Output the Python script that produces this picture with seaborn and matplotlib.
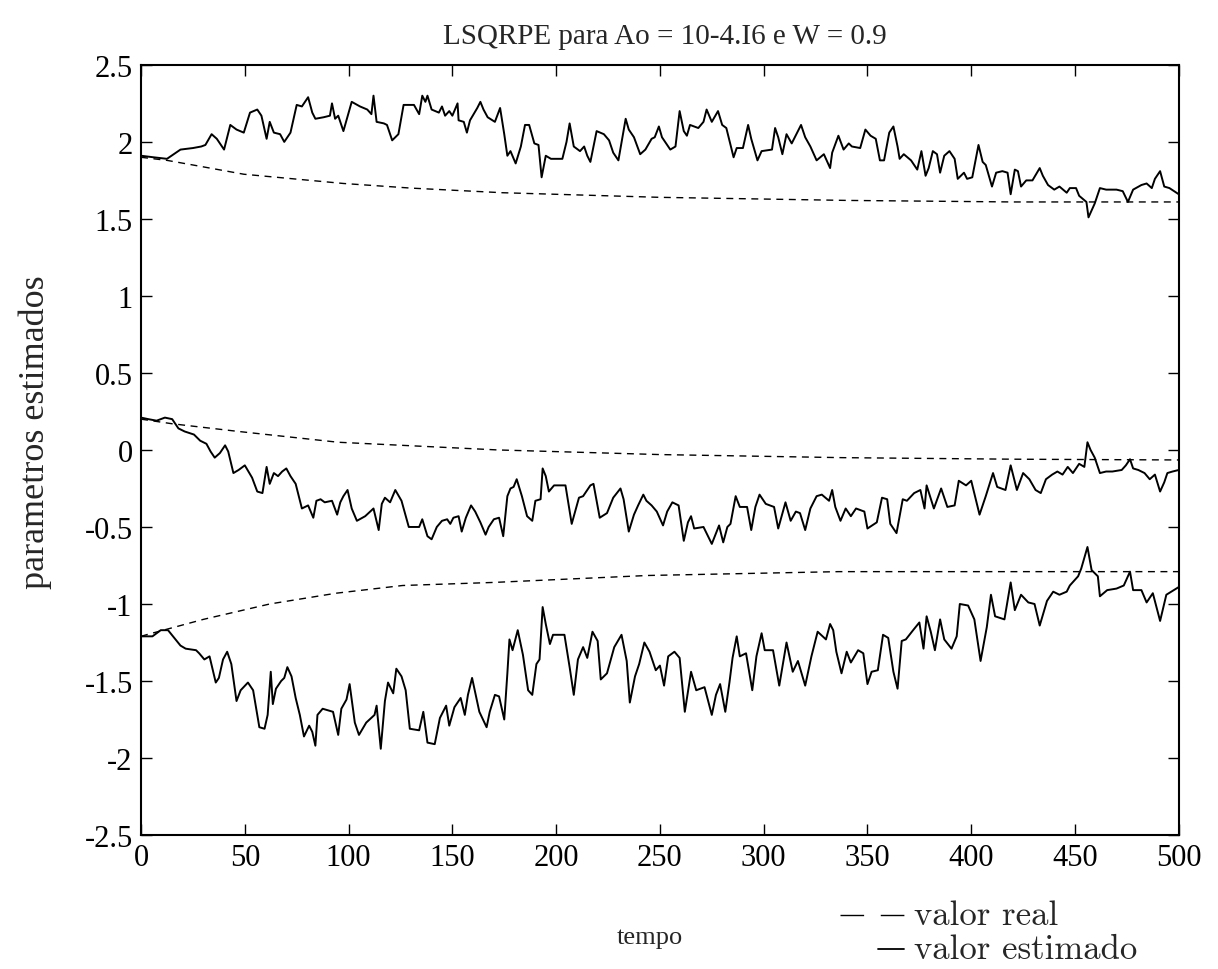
import matplotlib
matplotlib.use("Agg")
import matplotlib.pyplot as plt
from matplotlib.lines import Line2D
import numpy as np
import pandas as pd
import seaborn as sns

# ---- estimated parameters (solid) ----
t_a1 = [0, 6, 12.5, 19, 25, 29, 31, 34, 36.5, 40, 43, 46, 49.5, 52.5, 56, 58, 60.5, 62, 64, 67, 69, 72,
        75, 77.5, 80.5, 82.5, 84, 88, 91, 92, 93.5, 95, 97.5, 101.5, 105.5, 109, 111, 112, 113.5, 117,
        118.5, 121, 124, 126.5, 131.5, 134, 135.5, 137, 138, 140, 143.5, 145, 146.5, 148.5, 150, 152.5,
        153, 155.5, 157, 158.5, 162, 163.5, 165, 167, 170.5, 173, 175, 176.5, 178, 180.5, 183, 185, 187,
        189.5, 191.5, 193, 195, 197.5, 203, 205, 206.5, 208.5, 211.5, 213.5, 215, 216.5, 219.5, 223,
        225.5, 227.5, 230, 233.5, 235, 237.5, 240.5, 243, 246, 247.5, 249.5, 251, 255, 257.5, 259.5,
        261.5, 263, 264.5, 268.5, 271, 272.5, 275, 278, 280, 282, 285.5, 287, 290, 292.5, 294, 297, 299,
        304, 305.5, 307, 309, 311, 313.5, 318, 320, 322.5, 325.5, 329, 331, 332, 333, 336, 338.5, 341,
        342.5, 346.5, 349, 351.5, 354, 356, 358, 360.5, 362.5, 364.5, 365.5, 367.5, 371, 374, 376, 378,
        379.5, 381.5, 383.5, 385, 387, 389.5, 392, 393.5, 396.5, 398, 400.5, 403.5, 405.5, 407, 410, 412,
        415, 417.5, 419, 421, 422.5, 424, 426.5, 429.5, 433, 434.5, 437, 440, 442.5, 446, 447.5, 450.5,
        452, 455.5, 456.5, 459.5, 462, 465, 470, 473, 475.5, 478, 482, 484.5, 487, 488.5, 491, 493,
        495.5, 500]
est_a1 = [1.91, 1.90, 1.89, 1.95, 1.96, 1.97, 1.98, 2.05, 2.02, 1.95, 2.11, 2.08, 2.06, 2.19, 2.21, 2.17,
          2.02, 2.13, 2.06, 2.05, 2.00, 2.06, 2.24, 2.23, 2.29, 2.19, 2.15, 2.16, 2.17, 2.25, 2.15, 2.17,
          2.07, 2.26, 2.23, 2.21, 2.18, 2.30, 2.13, 2.12, 2.11, 2.01, 2.05, 2.24, 2.24, 2.18, 2.30, 2.26,
          2.30, 2.21, 2.19, 2.23, 2.17, 2.20, 2.17, 2.25, 2.14, 2.13, 2.06, 2.14, 2.22, 2.26, 2.21, 2.16,
          2.13, 2.22, 2.05, 1.91, 1.94, 1.86, 1.97, 2.11, 2.11, 1.99, 1.98, 1.77, 1.91, 1.89, 1.89, 2.00,
          2.12, 1.97, 1.94, 1.97, 1.91, 1.87, 2.07, 2.05, 2.01, 1.93, 1.88, 2.15, 2.08, 2.03, 1.92, 1.95,
          2.02, 2.03, 2.10, 2.03, 1.95, 1.97, 2.20, 2.07, 2.04, 2.11, 2.09, 2.13, 2.21, 2.13, 2.20, 2.11,
          2.09, 1.90, 1.96, 1.96, 2.11, 2.02, 1.88, 1.94, 1.95, 2.09, 2.03, 1.92, 2.05, 1.99, 2.11, 2.03,
          1.97, 1.88, 1.92, 1.86, 1.83, 1.93, 2.04, 1.95, 1.99, 1.97, 1.96, 2.08, 2.04, 2.02, 1.88, 1.88,
          2.06, 2.10, 1.97, 1.89, 1.92, 1.88, 1.82, 1.94, 1.78, 1.83, 1.94, 1.92, 1.80, 1.91, 1.94, 1.89,
          1.76, 1.80, 1.76, 1.77, 1.98, 1.87, 1.85, 1.71, 1.80, 1.81, 1.80, 1.66, 1.82, 1.81, 1.71, 1.75,
          1.75, 1.83, 1.78, 1.72, 1.69, 1.71, 1.67, 1.70, 1.70, 1.65, 1.61, 1.51, 1.60, 1.70, 1.69, 1.69,
          1.68, 1.61, 1.69, 1.72, 1.73, 1.70, 1.76, 1.81, 1.71, 1.70, 1.66]

t_a2 = [0, 3.5, 7.5, 11.5, 15, 18, 21, 25.5, 28.5, 31.5, 33.5, 35.5, 38, 40.5, 42, 44.5, 47, 50, 53.5, 56,
        58.5, 60.5, 62, 64, 66, 68, 70, 72, 74.5, 77.5, 80.5, 83, 84.5, 86.5, 88.5, 92, 94.5, 96, 97.5,
        99.5, 101.5, 104, 108, 112, 114.5, 116, 117.5, 120, 122.5, 125.5, 129, 134, 135.5, 138, 140,
        142.5, 145, 147.5, 149, 150.5, 153, 154.5, 156.5, 159, 161, 163.5, 166, 167.5, 170, 172.5, 174.5,
        176.5, 178, 179.5, 181, 183.5, 186, 188.5, 190, 192.5, 193.5, 195, 196.5, 199, 204.5, 207.5,
        211, 213, 216.5, 218, 221, 224.5, 227.5, 231, 232.5, 235, 237.5, 239.5, 242, 243.5, 246, 248.5,
        251.5, 253.5, 256, 259, 261.5, 263.5, 265, 266.5, 271, 275, 278.5, 280.5, 282.5, 284, 286.5,
        288.5, 292, 294, 296, 298, 301, 305, 307, 310.5, 313, 315.5, 317.5, 320, 322.5, 325.5, 328,
        331.5, 333, 334.5, 337, 339.5, 342, 344.5, 348.5, 350, 354.5, 357, 359.5, 361, 364, 367, 369,
        372.5, 375.5, 377.5, 378.5, 382, 385.5, 388.5, 392, 394, 397.5, 400, 404, 407, 410.5, 412.5,
        416.5, 419, 422, 425, 428, 431, 433.5, 436, 439, 441.5, 444, 446.5, 449, 452, 454.5, 456, 457.5,
        459.5, 462, 465, 468, 472.5, 474.5, 476.5, 478, 480.5, 483.5, 486, 488.5, 491, 493, 494.5, 497,
        500]
est_a2 = [0.21, 0.20, 0.19, 0.21, 0.20, 0.14, 0.12, 0.10, 0.06, 0.04, -0.01, -0.05, -0.02, 0.03, -0.01,
          -0.15, -0.13, -0.10, -0.18, -0.27, -0.28, -0.11, -0.22, -0.15, -0.17, -0.14, -0.12, -0.17,
          -0.22, -0.38, -0.36, -0.44, -0.33, -0.32, -0.34, -0.33, -0.42, -0.34, -0.30, -0.26, -0.38,
          -0.46, -0.43, -0.38, -0.52, -0.35, -0.31, -0.34, -0.26, -0.33, -0.50, -0.50, -0.45, -0.56,
          -0.58, -0.50, -0.46, -0.45, -0.48, -0.44, -0.43, -0.53, -0.44, -0.36, -0.40, -0.47, -0.55,
          -0.50, -0.45, -0.44, -0.56, -0.30, -0.25, -0.24, -0.19, -0.30, -0.43, -0.46, -0.33, -0.32,
          -0.12, -0.17, -0.27, -0.23, -0.23, -0.48, -0.31, -0.30, -0.23, -0.22, -0.44, -0.41, -0.31,
          -0.25, -0.32, -0.53, -0.42, -0.36, -0.29, -0.33, -0.36, -0.40, -0.49, -0.40, -0.34, -0.36,
          -0.59, -0.47, -0.43, -0.51, -0.50, -0.61, -0.49, -0.60, -0.50, -0.48, -0.30, -0.37, -0.37,
          -0.52, -0.37, -0.29, -0.35, -0.37, -0.51, -0.34, -0.46, -0.40, -0.41, -0.52, -0.38, -0.30,
          -0.29, -0.33, -0.26, -0.37, -0.46, -0.38, -0.43, -0.38, -0.40, -0.51, -0.47, -0.31, -0.32,
          -0.48, -0.54, -0.32, -0.33, -0.28, -0.26, -0.38, -0.23, -0.38, -0.25, -0.37, -0.36, -0.20,
          -0.23, -0.20, -0.42, -0.30, -0.15, -0.24, -0.26, -0.10, -0.26, -0.15, -0.19, -0.26, -0.28,
          -0.19, -0.16, -0.14, -0.16, -0.11, -0.15, -0.09, -0.11, 0.05, 0.00, -0.05, -0.15, -0.14, -0.14,
          -0.13, -0.10, -0.06, -0.12, -0.13, -0.15, -0.19, -0.16, -0.27, -0.21, -0.15, -0.14, -0.13]

t_a3 = [0, 5.5, 9.5, 13, 16, 19, 21.5, 26.5, 28, 30.5, 33, 36, 37.5, 39.5, 41.5, 43.5, 46, 48, 51.5, 54,
        57, 59.5, 61, 62.5, 63.5, 65, 67.5, 69, 70.5, 72.5, 74.5, 76.5, 78.5, 81, 82.5, 84, 85, 87.5,
        92.5, 95, 96.5, 99, 100.5, 103, 105, 108.5, 112.5, 113.5, 115.5, 117.5, 119, 121.5, 123, 125.5,
        127.5, 129.5, 134, 136, 138, 141.5, 144, 147, 148.5, 151, 154, 156, 157.5, 159.5, 163, 166.5,
        168, 170.5, 172.5, 175, 176.5, 177.5, 179, 181.5, 184, 186.5, 188.5, 190.5, 192, 193.5, 195,
        197, 198.5, 204, 206.5, 208.5, 210.5, 213, 215, 217.5, 220, 221.5, 224.5, 228, 231.5, 234,
        235.5, 238, 240, 242.5, 245, 248, 250, 252, 254, 257, 259.5, 262, 265, 267.5, 271.5, 275, 277,
        279, 281.5, 283.5, 285, 287, 288.5, 291.5, 294.5, 296.5, 299, 300.5, 304.5, 307.5, 311, 314,
        316.5, 320, 323, 326, 330, 332, 333.5, 335, 337.5, 340, 342, 345.5, 348, 350, 352, 355, 357.5,
        360, 362.5, 364.5, 366.5, 368.5, 372, 375, 377, 378.5, 380.5, 382.5, 385, 387, 390.5, 393,
        394.5, 398.5, 401.5, 404.5, 407.5, 409.5, 411.5, 416, 419, 421, 424, 427.5, 430.5, 433, 436.5,
        439.5, 442.5, 446, 447.5, 451.5, 453, 456, 458, 461, 462, 465.5, 470, 473.5, 476.5, 478, 482,
        484.5, 487.5, 491, 494, 500]
est_a3 = [-1.21, -1.21, -1.17, -1.17, -1.22, -1.27, -1.29, -1.30, -1.32, -1.36, -1.34, -1.51, -1.48,
          -1.36, -1.31, -1.39, -1.63, -1.56, -1.51, -1.56, -1.80, -1.81, -1.72, -1.44, -1.65, -1.55,
          -1.50, -1.48, -1.41, -1.47, -1.61, -1.72, -1.86, -1.79, -1.83, -1.92, -1.72, -1.68, -1.70,
          -1.85, -1.68, -1.62, -1.52, -1.77, -1.85, -1.77, -1.72, -1.66, -1.94, -1.63, -1.51, -1.58,
          -1.42, -1.47, -1.56, -1.81, -1.82, -1.70, -1.90, -1.91, -1.74, -1.66, -1.79, -1.67, -1.61,
          -1.72, -1.59, -1.48, -1.70, -1.80, -1.70, -1.59, -1.60, -1.75, -1.45, -1.23, -1.30, -1.17,
          -1.33, -1.56, -1.59, -1.39, -1.36, -1.02, -1.13, -1.26, -1.20, -1.20, -1.41, -1.59, -1.36,
          -1.28, -1.35, -1.18, -1.24, -1.49, -1.45, -1.28, -1.20, -1.37, -1.64, -1.47, -1.39, -1.25,
          -1.31, -1.43, -1.40, -1.53, -1.34, -1.31, -1.35, -1.70, -1.44, -1.56, -1.54, -1.72, -1.59,
          -1.52, -1.70, -1.51, -1.35, -1.21, -1.34, -1.32, -1.56, -1.34, -1.19, -1.30, -1.30, -1.53,
          -1.25, -1.44, -1.37, -1.53, -1.34, -1.18, -1.23, -1.13, -1.17, -1.31, -1.45, -1.31, -1.38,
          -1.30, -1.32, -1.52, -1.44, -1.43, -1.20, -1.22, -1.44, -1.55, -1.24, -1.23, -1.17, -1.12,
          -1.29, -1.08, -1.18, -1.30, -1.10, -1.23, -1.29, -1.21, -1.00, -1.01, -1.10, -1.37, -1.15,
          -0.94, -1.08, -1.10, -0.86, -1.04, -0.94, -0.99, -1.00, -1.14, -0.98, -0.92, -0.94, -0.92,
          -0.88, -0.82, -0.77, -0.63, -0.78, -0.82, -0.95, -0.91, -0.90, -0.88, -0.79, -0.91, -0.91,
          -0.99, -0.93, -1.11, -0.94, -0.89]

# ---- reference parameter trajectories (dashed) ----
t_ref1 = [0, 12.5, 25, 49.5, 73.5, 97.5, 130, 174, 250, 340, 420, 500]
ref_a1 = [1.90, 1.88, 1.85, 1.79, 1.76, 1.73, 1.70, 1.67, 1.64, 1.62, 1.61, 1.61]
t_ref2 = [0, 15, 47, 95, 172, 250, 338, 420, 500]
ref_a2 = [0.20, 0.17, 0.12, 0.05, 0.00, -0.03, -0.05, -0.06, -0.065]
t_ref3 = [0, 2.5, 30, 62, 94, 126, 170, 244, 336, 407, 500]
ref_a3 = [-1.21, -1.20, -1.10, -1.00, -0.93, -0.88, -0.86, -0.815, -0.79, -0.79, -0.79]

x_ticks = [0, 50, 100, 150, 200, 250, 300, 350, 400, 450, 500]
y_ticks = [-2.5, -2, -1.5, -1, -0.5, 0, 0.5, 1, 1.5, 2, 2.5]
y_tick_labels = ["-2.5", "-2", "-1.5", "-1", "-0.5", "0", "0.5", "1", "1.5", "2", "2.5"]

titulo = "LSQRPE para Ao = 10-4.I6 e W = 0.9"
rotulo_x = "tempo"
rotulo_y = "parametros estimados"
legenda = ["valor real", "valor estimado"]

# long-form table: one row per sample, grouped by parameter and kind
frames = []
for nome, t, v in [("a1", t_a1, est_a1), ("a2", t_a2, est_a2), ("a3", t_a3, est_a3)]:
    frames.append(pd.DataFrame({"tempo": t, "valor": v, "parametro": nome, "tipo": legenda[1]}))
for nome, t, v in [("a1", t_ref1, ref_a1), ("a2", t_ref2, ref_a2), ("a3", t_ref3, ref_a3)]:
    frames.append(pd.DataFrame({"tempo": t, "valor": v, "parametro": nome, "tipo": legenda[0]}))
df = pd.concat(frames, ignore_index=True)

sns.set_style("ticks")
plt.rcParams["font.family"] = ["Liberation Serif", "DejaVu Serif"]
plt.rcParams["axes.unicode_minus"] = False

fig = plt.figure(figsize=(12.18, 9.70), dpi=100)
ax = fig.add_axes([0.1158, 0.1381, 0.852, 0.794])

est = df[df["tipo"] == legenda[1]]
ref = df[df["tipo"] == legenda[0]]
sns.lineplot(data=est, x="tempo", y="valor", units="parametro", estimator=None,
             color="black", lw=1.4, ax=ax, legend=False)
sns.lineplot(data=ref, x="tempo", y="valor", units="parametro", estimator=None,
             color="black", lw=1.0, linestyle=(0, (5, 4)), ax=ax, legend=False)

ax.set_xlim(0, 500)
ax.set_ylim(-2.5, 2.5)
ax.set_xticks(x_ticks, labels=[str(v) for v in x_ticks])
ax.set_yticks(y_ticks, labels=y_tick_labels)
ax.tick_params(direction="in", top=True, right=True, length=8, width=1.0,
               labelsize=22, pad=6, colors="black")
for s in ax.spines.values():
    s.set_visible(True)
    s.set_linewidth(1.5)
    s.set_color("black")

ax.set_title(titulo, fontsize=21, x=0.505, pad=16)
ax.set_xlabel(rotulo_x, fontsize=19)
ax.xaxis.set_label_coords(0.49, -0.118)
ax.set_ylabel(rotulo_y, fontsize=26)
ax.yaxis.set_label_coords(-0.086, 0.525)

# legend drawn beneath the axes, at the lower right
fig.add_artist(Line2D([840 / 1218, 904 / 1218], [1 - 916 / 970] * 2, color="black",
                      lw=1.0, linestyle=(0, (17, 12))))
fig.add_artist(Line2D([878 / 1218, 904 / 1218], [1 - 950 / 970] * 2, color="black", lw=1.3))
fig.text(914 / 1218, 1 - 916 / 970, legenda[0], fontsize=25, va="center", ha="left",
         family=["cmr10", "DejaVu Serif"])
fig.text(914 / 1218, 1 - 950 / 970, legenda[1], fontsize=25, va="center", ha="left",
         family=["cmr10", "DejaVu Serif"])

fig.savefig("out.png", dpi=100, facecolor="white")
